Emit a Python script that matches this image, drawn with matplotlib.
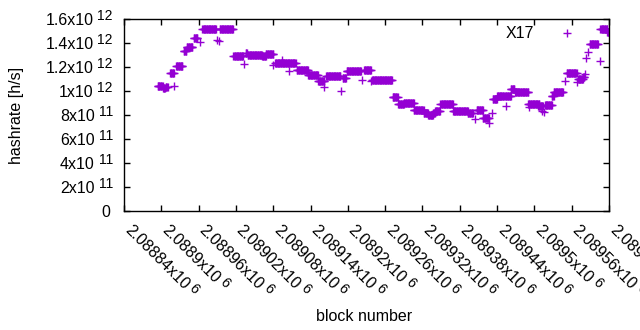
import matplotlib
matplotlib.use("Agg")
import matplotlib.pyplot as plt
import numpy as np
from matplotlib.transforms import blended_transform_factory, ScaledTranslation

plt.rcParams['font.family'] = ['Liberation Sans', 'DejaVu Sans']

# runs of constant hashrate (first block, last block, hashrate in 1e9 h/s)
run_start = [2088894, 2088903, 2088907, 2088914, 2088924, 2088936, 2088941, 2088952,
             2088966, 2088994, 2089016, 2089036, 2089039, 2089062, 2089068, 2089083,
             2089118, 2089136, 2089152, 2089165, 2089192, 2089198, 2089226, 2089239,
             2089272, 2089281, 2089290, 2089306, 2089322, 2089329, 2089337, 2089340,
             2089349, 2089369, 2089393, 2089407, 2089417, 2089433, 2089440, 2089454,
             2089462, 2089469, 2089490, 2089506, 2089517, 2089528, 2089531, 2089552,
             2089570, 2089578, 2089589, 2089606, 2089617]
run_end = [2088902, 2088906, 2088910, 2088920, 2088934, 2088940, 2088950, 2088958,
           2088988, 2089015, 2089031, 2089038, 2089062, 2089068, 2089080, 2089116,
           2089136, 2089152, 2089162, 2089188, 2089197, 2089221, 2089237, 2089271,
           2089280, 2089290, 2089306, 2089322, 2089329, 2089337, 2089340, 2089348,
           2089369, 2089393, 2089401, 2089417, 2089427, 2089440, 2089452, 2089462,
           2089468, 2089490, 2089508, 2089514, 2089528, 2089531, 2089546, 2089568,
           2089578, 2089580, 2089602, 2089617, 2089622]
run_value = [1040, 1025, 1035, 1150, 1208, 1330, 1367, 1442,
             1519, 1517, 1292, 1317, 1300, 1292, 1308, 1233,
             1175, 1133, 1083, 1125, 1108, 1167, 1175, 1092,
             950, 892, 900, 842, 817, 800, 817, 833,
             892, 833, 817, 842, 775, 933, 958, 958,
             1017, 992, 892, 875, 883, 958, 992, 1146,
             1100, 1117, 1392, 1517, 1492]

# isolated blocks
single_block = [2088920, 2088963, 2088990, 2088992, 2089033, 2089080, 2089094, 2089105,
                2089161, 2089189, 2089223, 2089237, 2089404, 2089427, 2089432, 2089454,
                2089491, 2089512, 2089516, 2089550, 2089569, 2089581, 2089583, 2089586,
                2089605]
single_value = [1045, 1408, 1425, 1417, 1225, 1217, 1258, 1167,
                1030, 1000, 1092, 1083, 767, 733, 817, 875,
                867, 833, 825, 1083, 1075, 1142, 1275, 1325,
                1250]

yticks = [0, 2e11, 4e11, 6e11, 8e11, 1e12, 1.2e12, 1.4e12, 1.6e12]
ytick_main = ["0", "2x10", "4x10", "6x10", "8x10", "1x10", "1.2x10", "1.4x10", "1.6x10"]
ytick_exp = ["", "11", "11", "11", "11", "12", "12", "12", "12"]
xticks = np.arange(2088840, 2089621, 60)
xtick_main = ["%gx10" % (v / 1e6) for v in xticks]
xtick_exp = ["6"] * len(xticks)

blocks = np.concatenate([np.arange(s, e + 1) for s, e in zip(run_start, run_end)] + [single_block])
rates = np.concatenate([np.full(e - s + 1, v) for s, e, v in zip(run_start, run_end, run_value)]
                       + [single_value]) * 1e9

FS = 11.5
FS_EXP = 10

fig = plt.figure(figsize=(6.4, 3.3), dpi=100)
ax = fig.add_axes([124 / 640, 1 - 211 / 330, 485 / 640, 192 / 330])
ax.plot(blocks, rates, linestyle='none', marker='+', markersize=5.2, markeredgewidth=1.0,
        color='#9400d3', label='X17')

ax.set_xlim(2088840, 2089620)
ax.set_ylim(0, 1.6e12)
ax.set_yticks(yticks)
ax.set_xticks(xticks)
ax.set_yticklabels([])
ax.set_xticklabels([])
ax.tick_params(direction='in', length=4, width=1, top=True, right=True, color='black')
for s in ax.spines.values():
    s.set_linewidth(1.0)

renderer = fig.canvas.get_renderer()


def px(dx, dy):
    return ScaledTranslation(dx / 100, dy / 100, fig.dpi_scale_trans)


def text_width(s, size):
    t = fig.text(0, 0, s, fontsize=size)
    w = t.get_window_extent(renderer).width
    t.remove()
    return w


# gnuplot-style y tick labels: mantissa + raised exponent
ytrans = blended_transform_factory(ax.transAxes, ax.transData)
for v, main, ex in zip(yticks, ytick_main, ytick_exp):
    if ex:
        ax.text(0, v, ex, transform=ytrans + px(-11, 3.5), ha='right', va='center', fontsize=FS_EXP)
        off = -11 - text_width(ex, FS_EXP) - 4
    else:
        off = -14
    ax.text(0, v, main, transform=ytrans + px(off, -1.5), ha='right', va='center', fontsize=FS)

# rotated x tick labels
xtrans = blended_transform_factory(ax.transData, ax.transAxes)
c = np.cos(np.radians(45))
for v, main, ex in zip(xticks, xtick_main, xtick_exp):
    x0, y0 = 3, -17
    ax.text(v, 0, main, transform=xtrans + px(x0, y0), rotation=-45, rotation_mode='anchor',
            ha='left', va='center', fontsize=FS)
    d = text_width(main, FS) + 3
    r = 4
    ax.text(v, 0, ex, transform=xtrans + px(x0 + d * c + r * c, y0 - d * c + r * c), rotation=-45,
            rotation_mode='anchor', ha='left', va='center', fontsize=FS_EXP)

ax.set_ylabel("hashrate [h/s]", fontsize=FS)
ax.yaxis.set_label_coords((24 - 124) / 485, 0.5)
ax.set_xlabel("block number", fontsize=FS)
ax.xaxis.set_label_coords((364 - 124) / 485, -(309 - 211) / 192)

ax.legend(loc='upper right', bbox_to_anchor=(0.978, 1.02), frameon=False, markerfirst=False,
          fontsize=FS, handlelength=2.5, handletextpad=0.8, borderpad=0.2)

fig.savefig("out.png", dpi=100)
